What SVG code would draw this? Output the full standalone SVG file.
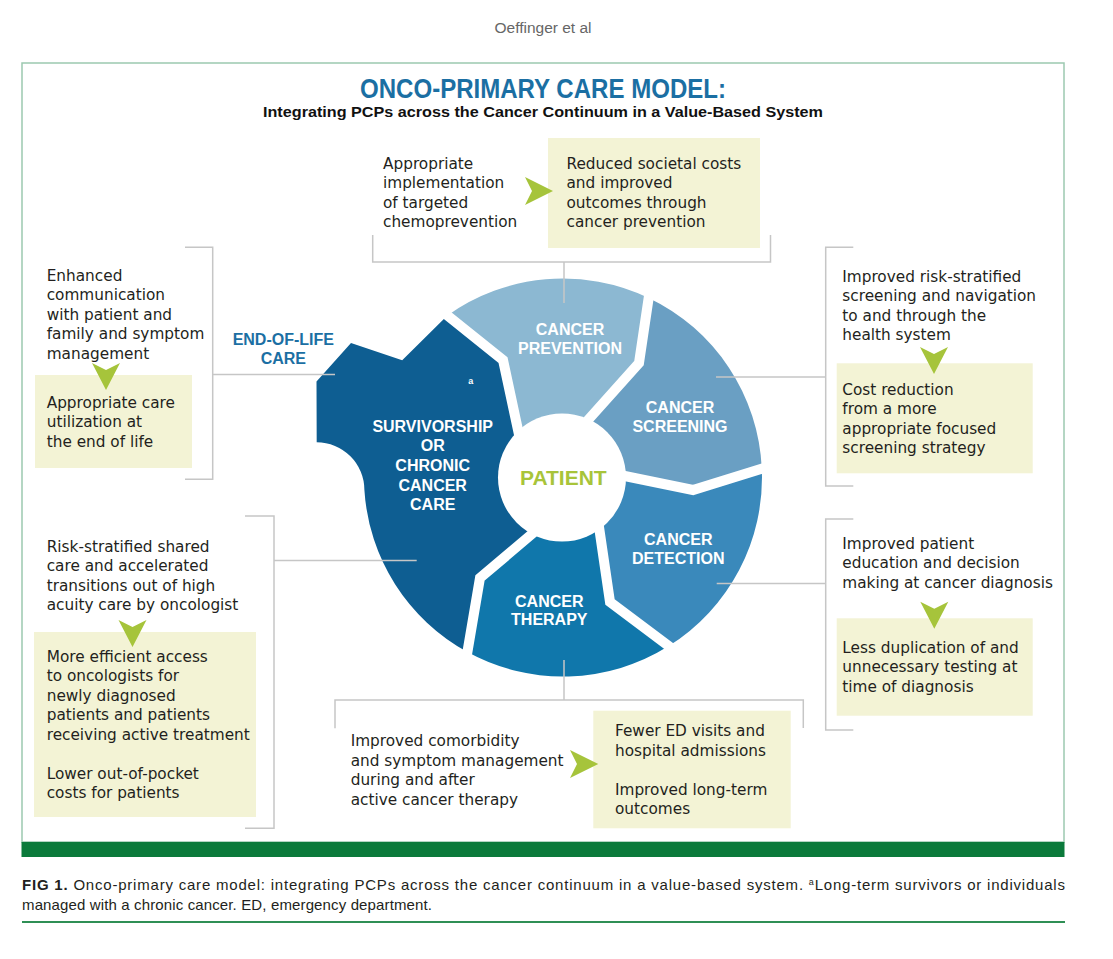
<svg xmlns="http://www.w3.org/2000/svg" width="1113" height="959" viewBox="0 0 1113 959">
<style>
.t{font-family:"DejaVu Sans",sans-serif;font-size:15.3px;fill:#231f20}
.w{font-family:"Liberation Sans",Arial,sans-serif;font-weight:bold;font-size:16px;fill:#fff;text-anchor:middle}
.box{fill:#f3f3d5}
.arr{fill:#a6c43b}
.ln{stroke:#c6c6c6;stroke-width:1.5;fill:none}
.gap{stroke:#fff;stroke-width:10;fill:none;stroke-linejoin:miter}
.cap{font-family:"Liberation Sans",Arial,sans-serif;font-size:15px;fill:#231f20}
</style>
<defs>
<path id="ad" d="M-14,0 L0,7 L14,0 L0,27 Z"/>
</defs>
<rect width="1113" height="959" fill="#fff"/>
<text x="543" y="33" text-anchor="middle" font-family="Liberation Sans, Arial, sans-serif" font-size="15.5" fill="#666">Oeffinger et al</text>
<rect x="22" y="63" width="1042" height="779" fill="none" stroke="#9cc9b0" stroke-width="1.5"/>
<rect x="21.5" y="842" width="1043" height="15" fill="#0b7a3b"/>
<g id="title">
<text x="543" y="98" text-anchor="middle" font-family="Liberation Sans, Arial, sans-serif" font-weight="bold" font-size="27" fill="#1b6fa3" textLength="366" lengthAdjust="spacingAndGlyphs">ONCO-PRIMARY CARE MODEL:</text>
<text x="543" y="116.5" text-anchor="middle" font-family="Liberation Sans, Arial, sans-serif" font-weight="bold" font-size="15.5" fill="#111" textLength="560" lengthAdjust="spacingAndGlyphs">Integrating PCPs across the Cancer Continuum in a Value-Based System</text>
</g>
<g id="wheel">
<path id="survivorship" fill="#0e5e92" d="M467.4,652 A199,199 0 0 1 364.4,490 A47.7,47.7 0 0 0 316.7,442.3 L316.5,381.5 L351,343 L402.2,360.3 L447.4,315.5 L503,360 L518,430 L563,477.5 L532,534 L480,578 Z"/>
<path id="prevention" fill="#8cb8d2" d="M447.4,315.5 A199,199 0 0 1 648.7,297.9 L639,363 L588,420 L563,477.5 L518,430 L503,360 Z"/>
<path id="screening" fill="#6a9fc3" d="M648.7,297.9 A199,199 0 0 1 761.8,468.8 L693,490 L615,474 L563,477.5 L588,420 L639,363 Z"/>
<path id="detection" fill="#3a89bb" d="M761.8,468.8 A199,199 0 0 1 668.7,646.1 L610,602 L600,534 L563,477.5 L615,474 L693,490 Z"/>
<path id="therapy" fill="#1077ab" d="M668.7,646.1 A199,199 0 0 1 467.4,652 L480,578 L532,534 L563,477.5 L600,534 L610,602 Z"/>
<path class="gap" d="M440.4,309.9 L503,360 L520.1,439.8"/>
<path class="gap" d="M650,289 L639,363 L581.3,427.5"/>
<path class="gap" d="M770.4,466.1 L693,490 L605.2,472"/>
<path class="gap" d="M676,651.4 L610,602 L598.6,524.1"/>
<path class="gap" d="M465.9,660.9 L480,578 L539.6,527.5"/>
<circle cx="562" cy="477.5" r="64" fill="#fff"/>
</g>
<g id="connectors">
<path class="ln" d="M372.7,235 V262 H770.5 V235 M564,262 V303"/>
<path class="ln" d="M185,247.3 H212.7 V479.3 H185 M212.7,374.5 H335"/>
<path class="ln" d="M245,516 H274 V828.3 H245 M274,560.5 H416.7"/>
<path class="ln" d="M853.3,247.3 H825.7 V486 H853.3 M716,377 H825.7"/>
<path class="ln" d="M853.3,519 H825.7 V730 H853.3 M716.7,583.5 H825.7"/>
<path class="ln" d="M335,728.3 V700 H803.3 V728 M564,660 V700"/>
</g>
<g id="wheel-labels">
<text class="w" x="570" y="335">CANCER</text>
<text class="w" x="570" y="354.3">PREVENTION</text>
<text class="w" x="680" y="413.3">CANCER</text>
<text class="w" x="680" y="431.7">SCREENING</text>
<text class="w" x="678.3" y="545">CANCER</text>
<text class="w" x="678.3" y="564">DETECTION</text>
<text class="w" x="549.3" y="606.7">CANCER</text>
<text class="w" x="549.3" y="625">THERAPY</text>
<text class="w"><tspan x="432.7" y="431.7">SURVIVORSHIP</tspan><tspan x="432.7" y="451.3">OR</tspan><tspan x="432.7" y="471">CHRONIC</tspan><tspan x="432.7" y="490.7">CANCER</tspan><tspan x="432.7" y="510.3">CARE</tspan></text>
<text x="470.7" y="384" text-anchor="middle" font-family="Liberation Sans, Arial, sans-serif" font-weight="bold" font-size="9" fill="#fff">a</text>
<text x="563.3" y="485" text-anchor="middle" font-family="Liberation Sans, Arial, sans-serif" font-weight="bold" font-size="21" fill="#a8c43a">PATIENT</text>
<text x="283.3" y="345" text-anchor="middle" font-family="Liberation Sans, Arial, sans-serif" font-weight="bold" font-size="16" fill="#1b6fa3">END-OF-LIFE</text>
<text x="283.3" y="364" text-anchor="middle" font-family="Liberation Sans, Arial, sans-serif" font-weight="bold" font-size="16" fill="#1b6fa3">CARE</text>
</g>
<g id="prevention-block">
<rect class="box" x="548" y="138" width="212" height="110"/>
<text class="t"><tspan x="383" y="168.5">Appropriate</tspan><tspan x="383" y="188">implementation</tspan><tspan x="383" y="207.5">of targeted</tspan><tspan x="383" y="227">chemoprevention</tspan></text>
<path class="arr" d="M525,177 L532,191 L525,205 L553,191 Z"/>
<text class="t"><tspan x="566.5" y="168.5">Reduced societal costs</tspan><tspan x="566.5" y="188">and improved</tspan><tspan x="566.5" y="207.5">outcomes through</tspan><tspan x="566.5" y="227">cancer prevention</tspan></text>
</g>
<g id="endoflife-block">
<rect class="box" x="35" y="375" width="157" height="93"/>
<text class="t"><tspan x="46.7" y="280.5">Enhanced</tspan><tspan x="46.7" y="300">communication</tspan><tspan x="46.7" y="319.5">with patient and</tspan><tspan x="46.7" y="339">family and symptom</tspan><tspan x="46.7" y="358.5">management</tspan></text>
<use href="#ad" class="arr" x="106" y="363"/>
<text class="t"><tspan x="46.7" y="407.5">Appropriate care</tspan><tspan x="46.7" y="427">utilization at</tspan><tspan x="46.7" y="446.5">the end of life</tspan></text>
</g>
<g id="survivorship-block">
<rect class="box" x="34" y="632" width="222" height="185"/>
<text class="t"><tspan x="46.7" y="551.5">Risk-stratified shared</tspan><tspan x="46.7" y="571">care and accelerated</tspan><tspan x="46.7" y="590.5">transitions out of high</tspan><tspan x="46.7" y="610">acuity care by oncologist</tspan></text>
<use href="#ad" class="arr" x="132.5" y="620"/>
<text class="t"><tspan x="46.7" y="661.5">More efficient access</tspan><tspan x="46.7" y="681">to oncologists for</tspan><tspan x="46.7" y="700.5">newly diagnosed</tspan><tspan x="46.7" y="720">patients and patients</tspan><tspan x="46.7" y="739.5">receiving active treatment</tspan><tspan x="46.7" y="778.5">Lower out-of-pocket</tspan><tspan x="46.7" y="798">costs for patients</tspan></text>
</g>
<g id="screening-block">
<rect class="box" x="836.7" y="363.3" width="196" height="110"/>
<text class="t"><tspan x="842.3" y="281.5">Improved risk-stratified</tspan><tspan x="842.3" y="301">screening and navigation</tspan><tspan x="842.3" y="320.5">to and through the</tspan><tspan x="842.3" y="340">health system</tspan></text>
<use href="#ad" class="arr" x="934" y="347"/>
<text class="t"><tspan x="842.3" y="394.5">Cost reduction</tspan><tspan x="842.3" y="414">from a more</tspan><tspan x="842.3" y="433.5">appropriate focused</tspan><tspan x="842.3" y="453">screening strategy</tspan></text>
</g>
<g id="detection-block">
<rect class="box" x="836.7" y="618.3" width="196" height="97.4"/>
<text class="t"><tspan x="842.3" y="548.5">Improved patient</tspan><tspan x="842.3" y="568">education and decision</tspan><tspan x="842.3" y="587.5">making at cancer diagnosis</tspan></text>
<use href="#ad" class="arr" x="934.3" y="601.7"/>
<text class="t"><tspan x="842.3" y="652.5">Less duplication of and</tspan><tspan x="842.3" y="672">unnecessary testing at</tspan><tspan x="842.3" y="691.5">time of diagnosis</tspan></text>
</g>
<g id="therapy-block">
<rect class="box" x="593.3" y="710.7" width="197.4" height="117.6"/>
<text class="t"><tspan x="350.7" y="746">Improved comorbidity</tspan><tspan x="350.7" y="765.5">and symptom management</tspan><tspan x="350.7" y="785">during and after</tspan><tspan x="350.7" y="804.5">active cancer therapy</tspan></text>
<path class="arr" d="M570,750 L577,764 L570,778 L598.3,764 Z"/>
<text class="t"><tspan x="615" y="736">Fewer ED visits and</tspan><tspan x="615" y="755.5">hospital admissions</tspan><tspan x="615" y="794.5">Improved long-term</tspan><tspan x="615" y="814">outcomes</tspan></text>
</g>
<g id="caption">
<text class="cap" x="22" y="890" textLength="1043" lengthAdjust="spacing"><tspan font-weight="bold">FIG 1.</tspan> Onco-primary care model: integrating PCPs across the cancer continuum in a value-based system. <tspan font-size="9" dy="-5">a</tspan><tspan dy="5">Long-term survivors or individuals</tspan></text>
<text class="cap" x="22" y="910" textLength="410" lengthAdjust="spacing">managed with a chronic cancer. ED, emergency department.</text>
<line x1="22" y1="922" x2="1065" y2="922" stroke="#2f8f55" stroke-width="2"/>
</g>
</svg>
